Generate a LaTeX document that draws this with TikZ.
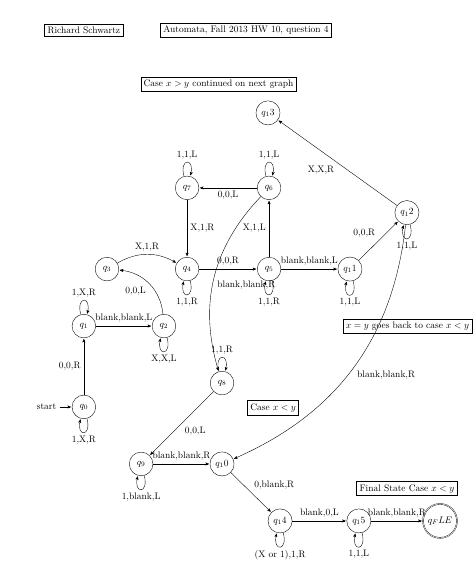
\documentclass[tikz,border=0pt]{standalone}
\usepackage{amsmath}
\usetikzlibrary{automata,arrows}

\begin{document}
\begin{tikzpicture}[>=stealth', shorten >=1pt, auto,
  every state/.style={draw, minimum size=2.5em},
  tag/.style={draw, semithick, rectangle, inner sep=3pt}]
\useasboundingbox (0,0) rectangle (17.63,-21.02);

\node[tag] (who) at (3.12,-1.13) {Richard Schwartz};
\node[tag] (hw) at (9.15,-1.12) {Automata, Fall 2013 HW 10, question 4};
\node[tag] (next) at (8.13,-3.14) {Case $x>y$ continued on next graph};
\node[tag] (back) at (15.16,-12.15) {$x=y$ goes back to case $x<y$};
\node[tag] (less) at (10.16,-15.17) {Case $x<y$};
\node[tag] (final) at (15.14,-18.18) {Final State Case $x<y$};

\node[state, initial] (q0) at (3.12,-15.14) {$q_0$};
\node[state] (q1) at (3.12,-12.13) {$q_1$};
\node[state] (q2) at (6.10,-12.13) {$q_2$};
\node[state] (q3) at (3.98,-10.01) {$q_3$};
\node[state] (q4) at (6.96,-10.01) {$q_4$};
\node[state] (q5) at (10.01,-10.01) {$q_5$};
\node[state] (q6) at (10.01,-6.99) {$q_6$};
\node[state] (q7) at (6.96,-6.99) {$q_7$};
\node[state] (q8) at (8.26,-14.25) {$q_8$};
\node[state] (q9) at (5.25,-17.26) {$q_9$};
\node[state] (q10) at (8.26,-17.26) {$q_10$};
\node[state] (q11) at (13.02,-10.01) {$q_11$};
\node[state] (q12) at (15.14,-7.91) {$q_12$};
\node[state] (q13) at (9.97,-4.20) {$q_13$};
\node[state] (q14) at (10.42,-19.38) {$q_14$};
\node[state] (q15) at (13.35,-19.38) {$q_15$};
\node[state, accepting] (qf) at (16.37,-19.38) {$q_FLE$};

\path[->] (q0) edge node {0,0,R} (q1)
               edge [loop below] node {1,X,R} ()
          (q1) edge node {blank,blank,L} (q2)
               edge [loop above] node {1,X,R} ()
          (q2) edge [bend right=40] node {0,0,L} (q3)
               edge [loop below] node {X,X,L} ()
          (q3) edge [bend left=30] node {X,1,R} (q4)
          (q4) edge node {0,0,R} (q5)
               edge [loop below] node {1,1,R} ()
          (q5) edge node {X,1,L} (q6)
               edge node {blank,blank,L} (q11)
               edge [loop below] node {1,1,R} ()
          (q6) edge node {0,0,L} (q7)
               edge [bend right=30] node {blank,blank,R} (q8)
               edge [loop above] node {1,1,L} ()
          (q7) edge node {X,1,R} (q4)
               edge [loop above] node {1,1,L} ()
          (q11) edge node {0,0,R} (q12)
                edge [loop below] node {1,1,L} ()
          (q12) edge node {X,X,R} (q13)
                edge [bend left=30] node {blank,blank,R} (q10)
                edge [loop below] node {1,1,L} ()
          (q8) edge node {0,0,L} (q9)
               edge [loop above] node {1,1,R} ()
          (q9) edge node {blank,blank,R} (q10)
               edge [loop below] node {1,blank,L} ()
          (q10) edge node {0,blank,R} (q14)
          (q14) edge node {blank,0,L} (q15)
                edge [loop below] node {(X or 1),1,R} ()
          (q15) edge node {blank,blank,R} (qf)
                edge [loop below] node {1,1,L} ();

\end{tikzpicture}
\end{document}
